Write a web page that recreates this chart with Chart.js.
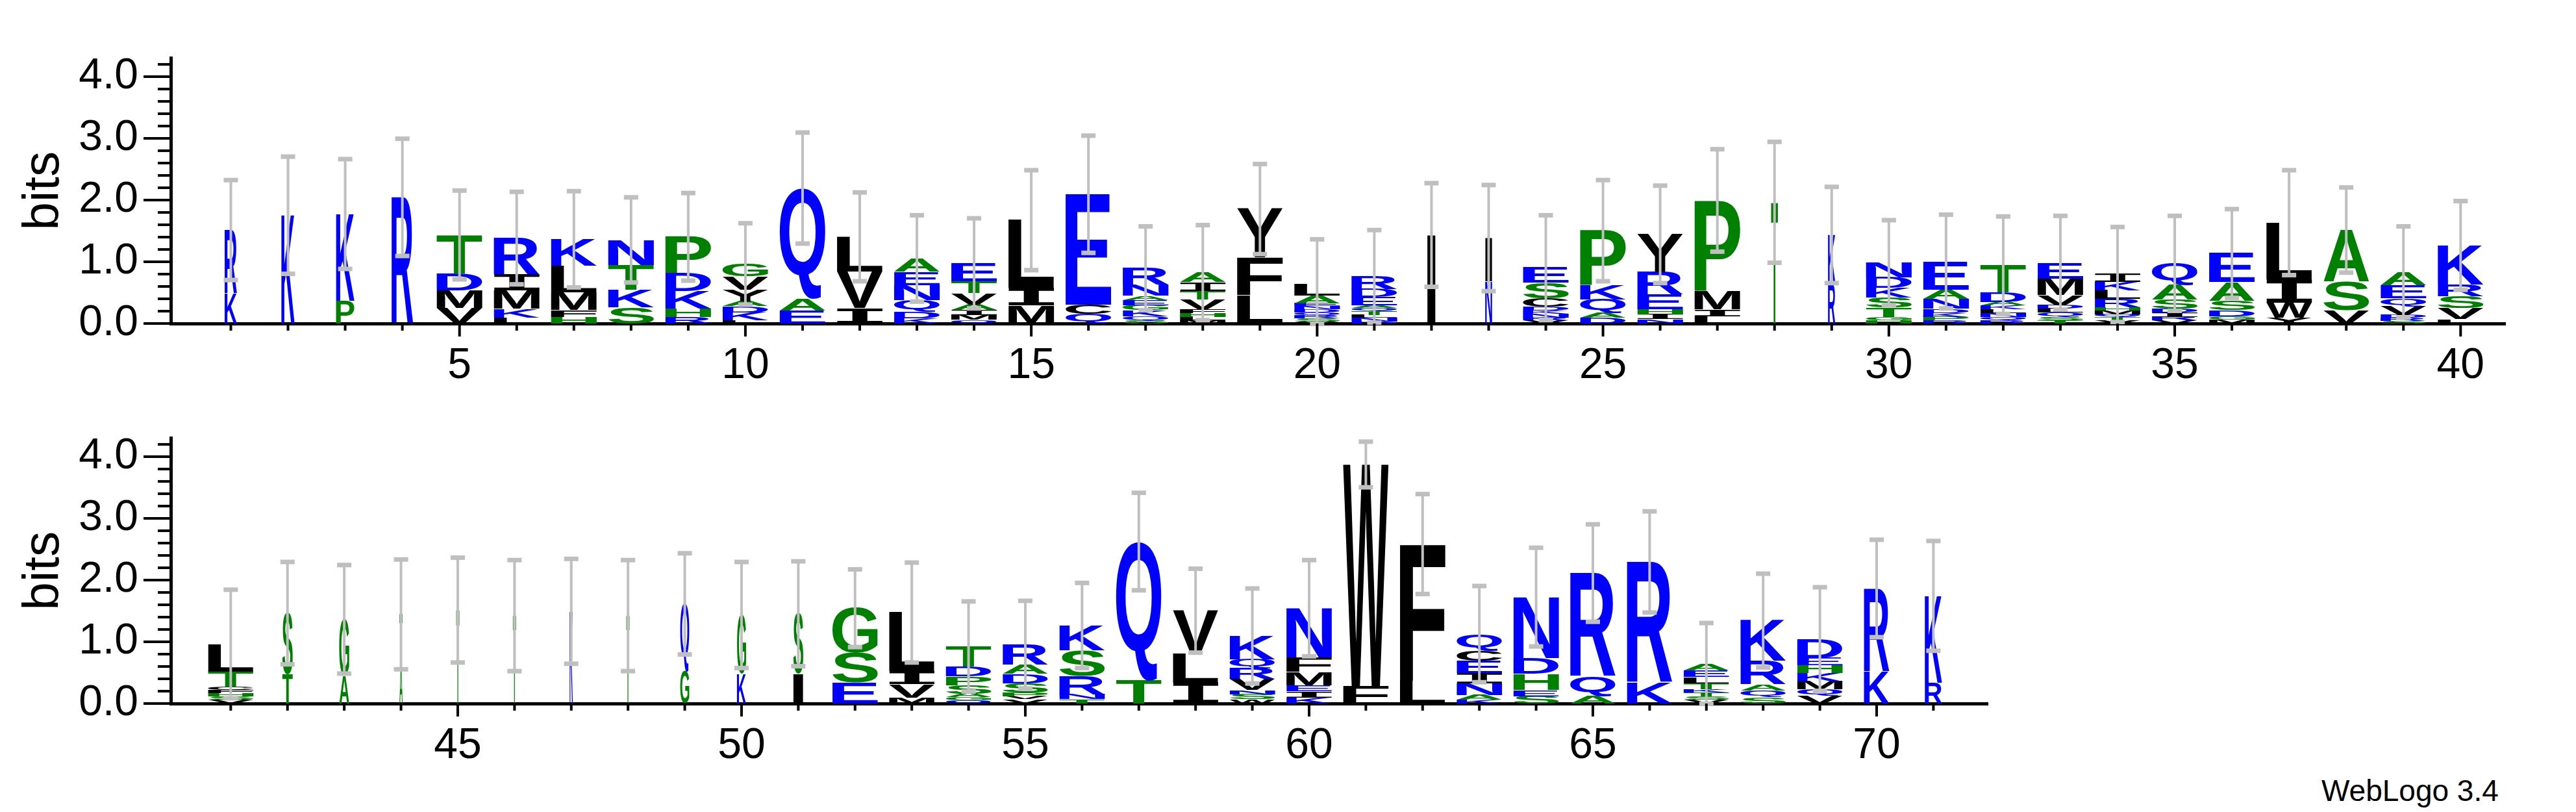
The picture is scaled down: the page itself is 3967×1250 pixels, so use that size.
<!DOCTYPE html>
<html><head><meta charset="utf-8">
<script src="https://cdn.jsdelivr.net/npm/chart.js@4.4.1/dist/chart.umd.min.js"></script>
<style>
html,body{margin:0;padding:0;background:#fff;width:3967px;height:1250px;overflow:hidden}
canvas{position:absolute;left:0}
#c1{top:0}#c2{top:585px}
#wl{position:absolute;left:3575px;top:1190px;font:46px "Liberation Sans",Arial,sans-serif;color:#000}
</style></head><body>
<canvas id="c1" width="3967" height="600"></canvas>
<canvas id="c2" width="3967" height="600"></canvas>
<div id="wl">WebLogo 3.4</div>
<script>
// ---- data: letters per position, bottom-to-top, with their heights in bits
const positionsA = Array.from({length:40},(_,i)=>i+1);
const lettersA = ["KR","K","PK","R","VMDT","LKMIR","HFMLK","SKTN","RHKDP","LKDAYVG","EAQ","IVL","KDQNEA","QMIAVTE","MIL","QCE","SQKGEANR","MLHFVTIA","LFY","VSRQDNEAL","DNLTQAEDR","I","NI","VRNKDCSE","DAQKP","NIHERY","LIMP","T","RK","HGTSKDN","RPKDNAE","RQNLKADT","TSQLDVME","VTQMHRLKI","VRIDSAQ","MGDSAE","YWIL","VSA","SRDVQEA","LVSRK"];
const bitsA = [[.49,1.03],[1.76],[.37,1.41],[2.05],[.25,.29,.27,.63],[.1,.14,.3,.26,.59],[.11,.11,.29,.43,.43],[.26,.29,.4,.41],[.11,.13,.29,.29,.59],[.05,.13,.1,.08,.19,.22,.2],[.21,.19,1.8],[.25,.59,.57],[.08,.11,.19,.24,.22,.22],[.06,.08,.08,.09,.18,.19,.3],[.29,.29,1.1],[.16,.15,1.79],[.05,.07,.1,.08,.08,.07,.18,.27],[.05,.06,.06,.06,.16,.14,.14,.16],[.46,.61,.79],[.03,.05,.05,.05,.05,.05,.05,.12,.19],[.03,.06,.05,.06,.05,.05,.13,.13,.21],[1.44],[.68,.71],[.05,.05,.06,.05,.06,.14,.25,.25],[.09,.08,.22,.23,.89],[.07,.08,.08,.24,.36,.62],[.12,.11,.3,1.47],[1.97],[.65,.79],[.05,.06,.15,.16,.16,.17,.24],[.05,.06,.06,.07,.16,.15,.46],[.05,.06,.06,.06,.06,.06,.16,.44],[.05,.06,.07,.06,.06,.16,.27,.26],[.05,.05,.05,.06,.05,.14,.14,.13,.13],[.05,.06,.07,.06,.15,.24,.35],[.06,.06,.1,.15,.3,.47],[.09,.25,.38,.92],[.21,.47,.84],[.04,.05,.05,.14,.13,.21,.22],[.07,.18,.19,.19,.64]];
const errTopA = [2.33,2.71,2.67,3.0,2.16,2.14,2.15,2.05,2.12,1.63,3.1,2.13,1.76,1.71,2.49,3.05,1.58,1.6,2.59,1.37,1.52,2.28,2.25,1.76,2.33,2.24,2.83,2.95,2.22,1.68,1.77,1.74,1.75,1.57,1.75,1.86,2.49,2.21,1.58,1.99];
const occupancyA = [.27,.29,.4,.47,1,1,1,1,1,1,1,1,1,1,1,1,1,1,1,1,1,.18,.15,1,1,1,1,.15,.16,1,1,1,1,1,1,1,1,1,1,1];

const positionsB = Array.from({length:31},(_,i)=>i+41);
const lettersB = ["VSHFCTL","TS","AG","AT","T","T","K","T","GQ","KG","IS","ESG","MVIL","QGASPDT","VVPSDAR","TNRSK","TQ","ILV","WSNVRQK","KIEMFN","FW","LF","KANIECQ","SEHDN","AQR","KR","VSTKTLEA","SQARK","VQMKHED","KR","RK"];
const bitsB = [[.06,.06,.05,.05,.05,.25,.45],[.47,1.0],[.45,.92],[.57,.88],[1.52],[1.43],[1.5],[1.43],[.52,1.1],[.48,.96],[.48,.98],[.34,.48,.73],[.1,.22,.21,.95],[.05,.05,.06,.14,.14,.16,.33],[.07,.05,.06,.15,.15,.15,.33],[.07,.08,.3,.41,.41],[.38,2.25],[.34,.47,.7],[.07,.08,.07,.18,.17,.15,.38],[.1,.1,.1,.22,.23,.8],[.28,3.6],[.37,2.22],[.06,.08,.19,.16,.2,.17,.27],[.12,.1,.26,.26,.99],[.12,.32,1.68],[.34,1.96],[.06,.06,.06,.05,.1,.1,.11,.11],[.1,.11,.1,.38,.66],[.12,.11,.13,.13,.13,.12,.31],[.52,1.35],[.34,1.41]];
const errTopB = [1.85,2.3,2.25,2.34,2.37,2.33,2.35,2.33,2.44,2.3,2.31,2.18,2.29,1.66,1.67,1.96,3.42,2.19,1.87,2.33,4.25,3.4,1.91,2.53,2.91,3.12,1.31,2.11,1.89,2.66,2.64];
const occupancyB = [1,.23,.22,.07,.07,.07,.07,.07,.2,.2,.22,1,1,1,1,1,1,1,1,1,1,1,1,1,1,1,1,1,1,.56,.38];

const yTicks = [0,1,2,3,4];

// ---- styling
const BLUE='#0000ff', GREEN='#008000', BLACK='#000000';
function colorOf(ch){
  if('KRDENQ'.includes(ch)) return BLUE;
  if('STGAPH'.includes(ch)) return GREEN;
  return BLACK;
}
const FONT='"Liberation Sans", Arial, sans-serif';
const IFONT='"DejaVu Sans Mono", monospace';

function logoPlugin(letters, bits, errTop, occ){
  return {
    id:'logo',
    afterDatasetsDraw(chart){
      const ctx=chart.ctx, xs=chart.scales.x, ys=chart.scales.y;
      const sp = xs.getPixelForValue(2)-xs.getPixelForValue(1);
      ctx.save();
      chart.data.datasets.forEach((ds,i)=>{
        const meta=chart.getDatasetMeta(i);
        meta.data.forEach((el,j)=>{
          const ch=letters[j][i]; if(!ch) return;
          const w=sp*0.8*occ[j];
          const top=el.y, bot=el.base, h=bot-top; if(h<=0.5) return;
          ctx.save();
          ctx.font='bold 200px '+((ch==='I'&&occ[j]>0.5)?IFONT:FONT);
          ctx.textAlign='left'; ctx.textBaseline='alphabetic';
          const m=ctx.measureText(ch);
          const gl=m.actualBoundingBoxLeft, gw=m.actualBoundingBoxLeft+m.actualBoundingBoxRight;
          const ga=m.actualBoundingBoxAscent, gh=m.actualBoundingBoxAscent+m.actualBoundingBoxDescent;
          ctx.translate(el.x-w/2, top);
          ctx.scale(w/gw, h/gh);
          ctx.fillStyle=colorOf(ch);
          ctx.fillText(ch, gl, ga);
          ctx.restore();
        });
      });
      // error bars
      ctx.strokeStyle='#bfbfbf'; ctx.fillStyle='#bfbfbf'; ctx.lineWidth=4;
      chart.data.labels.forEach((p,j)=>{
        const total=bits[j].reduce((a,b)=>a+b,0);
        const hi=errTop[j], lo=Math.max(0,2*total-hi);
        const x=xs.getPixelForValue(p), y1=ys.getPixelForValue(hi), y0=ys.getPixelForValue(lo);
        ctx.beginPath(); ctx.moveTo(x,y0); ctx.lineTo(x,y1); ctx.stroke();
        ctx.fillRect(x-11,y1-3,22,7); ctx.fillRect(x-11,y0-3,22,7);
      });
      ctx.restore();
    },
    afterDraw(chart){
      const ctx=chart.ctx, xs=chart.scales.x, ys=chart.scales.y, a=chart.chartArea;
      ctx.save(); ctx.strokeStyle='#000'; ctx.lineWidth=4;
      for(let k=0;k<=21;k++){
        const v=k*0.2, y=ys.getPixelForValue(v), len=(k%5===0)?42:20;
        ctx.beginPath(); ctx.moveTo(a.left-len,y); ctx.lineTo(a.left,y); ctx.stroke();
      }
      chart.data.labels.forEach(p=>{
        const x=xs.getPixelForValue(p), len=(p%5===0)?20:11;
        ctx.beginPath(); ctx.moveTo(x,a.bottom); ctx.lineTo(x,a.bottom+len); ctx.stroke();
      });
      ctx.restore();
    }
  };
}

function makeChart(id, positions, letters, bits, errTop, occ, xmin, xmax, padRight){
  const nLayers=Math.max(...bits.map(b=>b.length));
  const datasets=[];
  for(let i=0;i<nLayers;i++){
    datasets.push({data:positions.map((p,j)=>({x:p,y:bits[j][i]||0})),
      backgroundColor:'rgba(0,0,0,0)',borderWidth:0,barPercentage:1,categoryPercentage:1});
  }
  return new Chart(document.getElementById(id),{
    type:'bar',
    data:{labels:positions,datasets},
    options:{
      responsive:false,animation:false,devicePixelRatio:1,
      layout:{padding:{top:47,right:padRight,left:0,bottom:0}},
      plugins:{legend:{display:false},tooltip:{enabled:false}},
      scales:{
        x:{type:'linear',stacked:true,min:xmin,max:xmax,
          grid:{display:false,drawTicks:false},
          border:{display:true,color:'#000',width:5},
          afterBuildTicks(s){s.ticks=positions.map(v=>({value:v}));},
          afterFit(s){s.height=102;},
          ticks:{autoSkip:false,maxRotation:0,padding:26,color:'#000',
            font:{family:FONT,size:66},
            callback:v=>(v%5===0?String(v):'')}},
        y:{stacked:true,min:0,max:4.3,
          grid:{display:false,drawTicks:false},
          border:{display:true,color:'#000',width:5},
          afterBuildTicks(s){s.ticks=yTicks.map(v=>({value:v}));},
          afterFit(s){s.width=263;},
          title:{display:true,text:'bits',color:'#000',font:{family:FONT,size:78},padding:{top:22,bottom:0}},
          ticks:{padding:50,color:'#000',font:{family:FONT,size:66},callback:v=>v.toFixed(1)}}
      }
    },
    plugins:[logoPlugin(letters,bits,errTop,occ)]
  });
}
makeChart('c1',positionsA,lettersA,bitsA,errTopA,occupancyA,0.46,40.27,109);
makeChart('c2',positionsB,lettersB,bitsB,errTopB,occupancyB,40.46,71.44,906);
</script></body></html>
